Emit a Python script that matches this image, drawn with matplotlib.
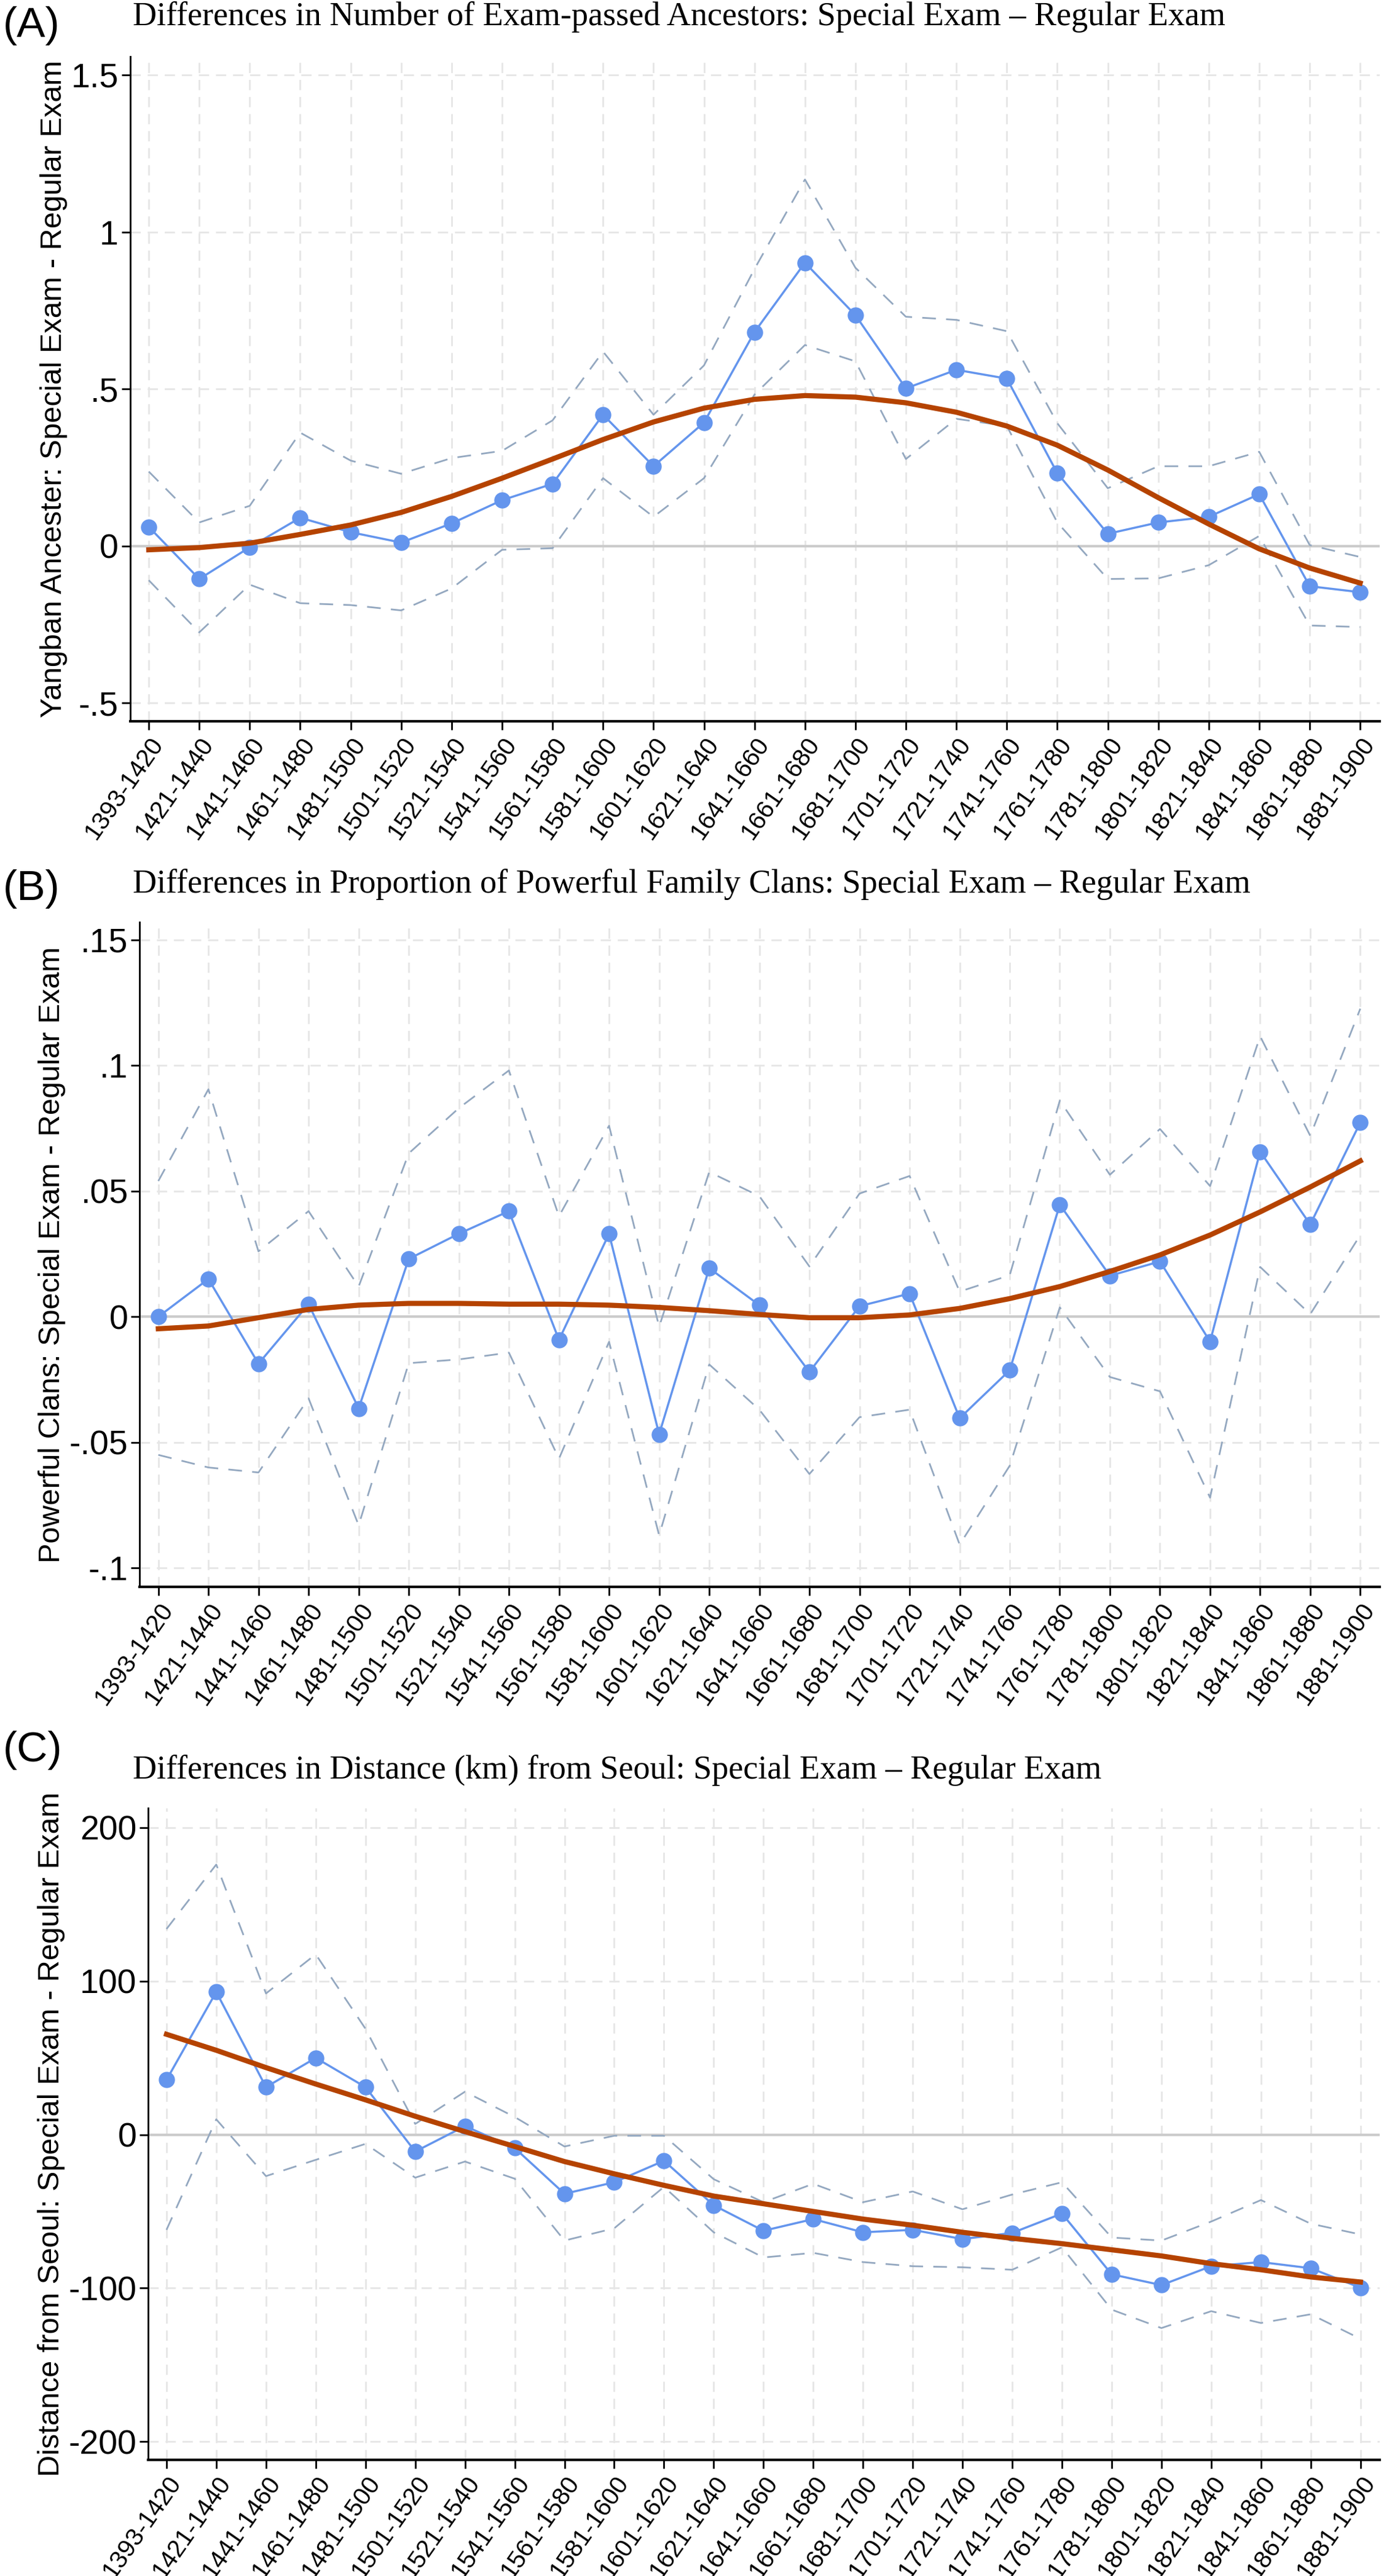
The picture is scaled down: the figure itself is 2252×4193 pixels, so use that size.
import numpy as np
import matplotlib.pyplot as plt

periods = ['1393-1420', '1421-1440', '1441-1460', '1461-1480', '1481-1500', '1501-1520',
           '1521-1540', '1541-1560', '1561-1580', '1581-1600', '1601-1620', '1621-1640',
           '1641-1660', '1661-1680', '1681-1700', '1701-1720', '1721-1740', '1741-1760',
           '1761-1780', '1781-1800', '1801-1820', '1821-1840', '1841-1860', '1861-1880',
           '1881-1900']

# Panel A: exam-passed ancestors
a_est = [0.061, -0.105, -0.004, 0.09, 0.044, 0.011, 0.072, 0.146, 0.198, 0.418, 0.254, 0.393,
         0.681, 0.902, 0.735, 0.502, 0.561, 0.533, 0.232, 0.039, 0.075, 0.093, 0.165, -0.128, -0.147]
a_hi = [0.237, 0.075, 0.128, 0.361, 0.272, 0.23, 0.28, 0.303, 0.4, 0.619, 0.418, 0.575,
        0.882, 1.167, 0.886, 0.73, 0.72, 0.684, 0.391, 0.184, 0.254, 0.254, 0.3, 0.003, -0.035]
a_lo = [-0.109, -0.275, -0.123, -0.182, -0.188, -0.205, -0.135, -0.012, -0.007, 0.216, 0.093, 0.216,
        0.482, 0.64, 0.588, 0.277, 0.405, 0.382, 0.075, -0.105, -0.103, -0.061, 0.032, -0.253, -0.258]
a_fit = [-0.012, -0.005, 0.009, 0.037, 0.067, 0.107, 0.158, 0.216, 0.277, 0.339, 0.395, 0.439,
         0.467, 0.479, 0.474, 0.456, 0.426, 0.382, 0.321, 0.242, 0.154, 0.07, -0.009, -0.07, -0.118]

# Panel B: powerful clans
b_est = [0.0, 0.015, -0.0187, 0.005, -0.0365, 0.023, 0.033, 0.042, -0.0092, 0.033, -0.0468, 0.0193,
         0.0046, -0.022, 0.0042, 0.0092, -0.0404, -0.0213, 0.0446, 0.0163, 0.022, -0.0099, 0.0657,
         0.0367, 0.0773]
b_hi = [0.054, 0.0905, 0.026, 0.042, 0.012, 0.065, 0.083, 0.098, 0.04, 0.076, -0.004, 0.0576,
        0.048, 0.02, 0.049, 0.056, 0.01, 0.0165, 0.086, 0.0565, 0.0747, 0.052, 0.1116, 0.072, 0.1226]
b_lo = [-0.055, -0.060, -0.062, -0.0325, -0.083, -0.0185, -0.017, -0.0143, -0.0565, -0.01, -0.087,
        -0.019, -0.037, -0.0626, -0.04, -0.037, -0.0907, -0.0593, 0.0037, -0.024, -0.0297, -0.072,
        0.0198, 0.001, 0.0325]
b_fit = [-0.0048, -0.0037, -0.0004, 0.0029, 0.0046, 0.0053, 0.0053, 0.005, 0.005, 0.0046, 0.0037,
         0.0024, 0.0009, -0.0004, -0.0004, 0.0007, 0.0033, 0.0072, 0.012, 0.018, 0.0246, 0.0325,
         0.0417, 0.0516, 0.062]

# Panel C: distance from Seoul
c_est = [35.7, 93, 31, 50, 31, -11, 5.6, -8.7, -38.5, -31, -17, -46, -62.6, -55, -63.6, -62, -68,
         -64, -51.4, -91, -98, -85.7, -83, -87, -99.7]
c_hi = [134, 176, 92, 117.5, 69, 7, 28, 11.5, -7.7, -0.7, -0.7, -29, -44, -32, -44, -37, -48.6,
        -39, -31, -67, -69, -56.6, -42.6, -58, -65]
c_lo = [-62, 10, -27, -16.4, -6, -28, -17.5, -28.7, -69, -61, -34, -63.6, -80, -77, -83, -85.7,
        -86.4, -88, -73.4, -114, -126, -115, -122.7, -117, -133]
c_fit = [65.4, 55, 43.7, 33, 22.7, 12, 2, -7.7, -17.5, -25.5, -33, -40, -45, -50, -55, -59, -63.6,
         -67.5, -71, -75, -79, -84, -88, -92.7, -96]

sans = ['Liberation Sans Narrow', 'Liberation Sans', 'DejaVu Sans']
serif = ['Liberation Serif', 'DejaVu Serif']

fig = plt.figure(figsize=(22.52, 41.93), dpi=100)
x = np.arange(len(periods))

panels = [
    dict(rect=[0.094, 0.720, 0.903, 0.258], est=a_est, hi=a_hi, lo=a_lo, fit=a_fit,
         ylim=(-0.558, 1.558), ticks=[-0.5, 0, 0.5, 1, 1.5], tl=['-.5', '0', '.5', '1', '1.5'],
         ylabel='Yangban Ancester: Special Exam - Regular Exam', letter='(A)', ly=0.990, ty=0.9935,
         title='Differences in Number of Exam-passed Ancestors: Special Exam \u2013 Regular Exam'),
    dict(rect=[0.101, 0.384, 0.896, 0.258], est=b_est, hi=b_hi, lo=b_lo, fit=b_fit,
         ylim=(-0.1075, 0.157), ticks=[-0.1, -0.05, 0, 0.05, 0.1, 0.15],
         tl=['-.1', '-.05', '0', '.05', '.1', '.15'],
         ylabel='Powerful Clans: Special Exam - Regular Exam', letter='(B)', ly=0.655, ty=0.6566,
         title='Differences in Proportion of Powerful Family Clans: Special Exam \u2013 Regular Exam'),
    dict(rect=[0.107, 0.045, 0.890, 0.253], est=c_est, hi=c_hi, lo=c_lo, fit=c_fit,
         ylim=(-212, 212.6), ticks=[-200, -100, 0, 100, 200], tl=['-200', '-100', '0', '100', '200'],
         ylabel='Distance from Seoul: Special Exam - Regular Exam', letter='(C)', ly=0.3205, ty=0.3127,
         title='Differences in Distance (km) from Seoul: Special Exam \u2013 Regular Exam'),
]

for p in panels:
    ax = fig.add_axes(p['rect'])
    for t in p['ticks']:
        if t != 0:
            ax.axhline(t, color='#e6e6e6', lw=2, ls=(0, (6, 4)), zorder=0)
    for xi in x:
        ax.axvline(xi, color='#e6e6e6', lw=2, ls=(0, (6, 4)), zorder=0)
    ax.axhline(0, color='#cccccc', lw=3, zorder=1)
    ax.plot(x, p['hi'], color='#94a8c0', lw=2, ls=(0, (8, 6)), zorder=2)
    ax.plot(x, p['lo'], color='#94a8c0', lw=2, ls=(0, (8, 6)), zorder=2)
    ax.plot(x, p['est'], color='#6495ed', lw=2.5, marker='o', ms=18, zorder=3)
    ax.plot(x, p['fit'], color='#b54300', lw=6, zorder=4)
    ax.set_xlim(-0.37, 24.39)
    ax.set_ylim(*p['ylim'])
    ax.set_yticks(p['ticks'])
    ax.set_yticklabels(p['tl'], family=sans, fontsize=40)
    ax.set_xticks(x)
    ax.set_xticklabels(periods, rotation=55, ha='right', rotation_mode='anchor',
                       family=sans, fontsize=29)
    ax.set_ylabel(p['ylabel'], family=['Liberation Sans', 'DejaVu Sans'], fontsize=35, labelpad=4)
    ax.spines['top'].set_visible(False)
    ax.spines['right'].set_visible(False)
    ax.spines['left'].set_linewidth(2)
    ax.spines['bottom'].set_linewidth(3)
    ax.tick_params(length=10, width=2)
    fig.text(0.002, p['ly'], p['letter'], family=sans, fontsize=50, va='center')
    fig.text(0.096, p['ty'], p['title'], family=serif, fontsize=39, va='center')

fig.savefig('out.png', dpi=100, facecolor='white')
